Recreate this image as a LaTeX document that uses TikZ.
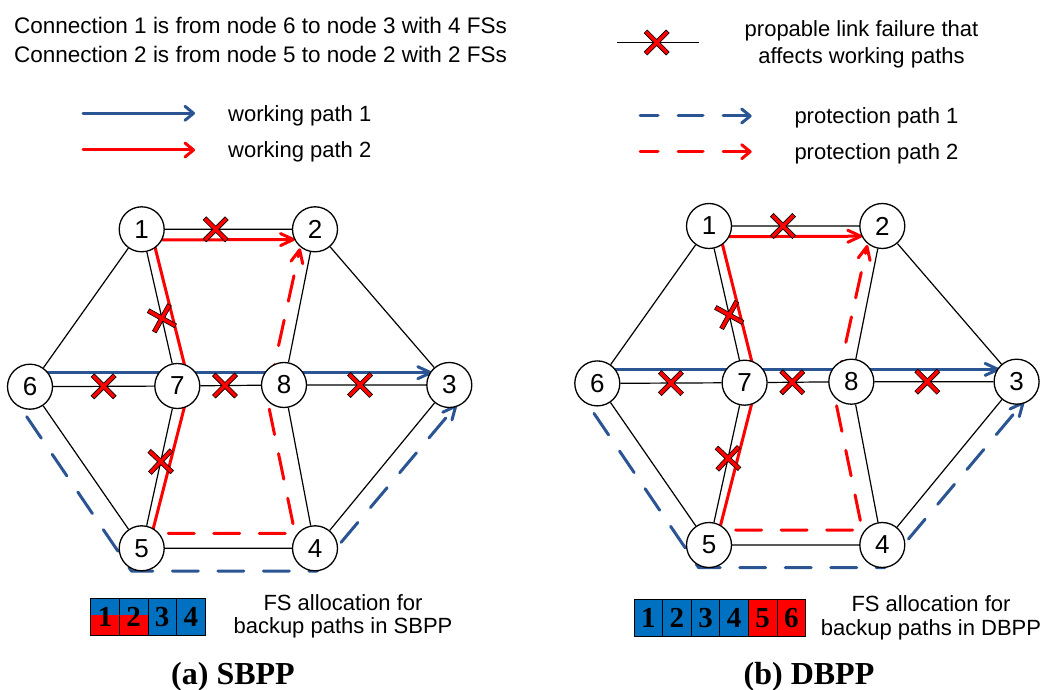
\documentclass[tikz,border=0pt]{standalone}
\usepackage{fontspec}
\setmainfont{Liberation Sans}
\newfontfamily\tnr{Liberation Serif}
\usetikzlibrary{arrows.meta,calc,backgrounds}
\definecolor{pblue}{HTML}{2B5592}
\definecolor{fsblue}{HTML}{0070C0}
\tikzset{
  netnode/.style={circle,draw,line width=1.3pt,fill=white,minimum size=45pt,inner sep=0pt,font=\fontsize{26}{26}\selectfont},
  link/.style={line width=1.2pt},
  wpath/.style={line width=3pt,line join=round,-{Straight Barb[length=13pt,width=12pt,round]}},
  ppath/.style={wpath,line cap=round,dash pattern=on 26pt off 19.5pt},
  lwpath/.style={line width=3pt,line cap=round,-{Straight Barb[length=8.5pt,width=14pt,round]}},
  lppath/.style={lwpath,dash pattern=on 25pt off 20pt,dash phase=7pt},
  txt/.style={inner sep=0pt,font=\fontsize{22}{26}\selectfont},
  captxt/.style={inner sep=0pt,font=\tnr\bfseries\fontsize{32}{32}\selectfont},
  fsbox/.style={draw,line width=0.8pt,minimum width=28.6pt,minimum height=36.7pt,inner sep=0pt,fill=fsblue,font=\tnr\bfseries\fontsize{29}{29}\selectfont},
  halfred/.style={path picture={\fill[red] (path picture bounding box.south west) rectangle ($(path picture bounding box.east)+(0,-1.7)$);}},
  xmark/.pic={\filldraw[fill=red,draw=black,line width=0.6pt,rotate=45]
    (15.5,2.2)--(2.2,2.2)--(2.2,15.5)--(-2.2,15.5)--(-2.2,2.2)--(-15.5,2.2)--(-15.5,-2.2)--(-2.2,-2.2)--(-2.2,-15.5)--(2.2,-15.5)--(2.2,-2.2)--(15.5,-2.2)--cycle;}
}
\newcommand\drawnet[1]{%
  \node[netnode] (#1n1) at (141.7,229.3) {1};
  \node[netnode] (#1n2) at (315,229.3) {2};
  \node[netnode] (#1n3) at (449.3,385) {3};
  \node[netnode] (#1n4) at (315,548.3) {4};
  \node[netnode] (#1n5) at (141.7,548.3) {5};
  \node[netnode] (#1n6) at (30,386.7) {6};
  \node[netnode] (#1n7) at (177.3,386) {7};
  \node[netnode] (#1n8) at (284,385) {8};
  \begin{scope}[on background layer]
    \draw[link] (#1n1)--(#1n2) (#1n1)--(#1n6) (#1n1)--(#1n7) (#1n2)--(#1n8) (#1n2)--(#1n3)
      (#1n6)--(#1n7) (#1n7)--(#1n8) (#1n8)--(#1n3) (#1n6)--(#1n5) (#1n7)--(#1n5)
      (#1n8)--(#1n4) (#1n3)--(#1n4) (#1n5)--(#1n4);
    \draw[wpath,red] ($(#1n5)+(6.5,0)$) -- ($(#1n7)+(12.5,0)$) -- ($(#1n1)+(11.5,10.7)$) -- ($(#1n2)+(-20,10.2)$);
    \draw[wpath,pblue] ($(#1n6)+(0,-14)$) -- ($(#1n3)+(-17,-12.3)$);
    \draw[ppath,red] ($(#1n5)+(26.6,-15)$) -- ($(#1n4)+(-20,-15)$) -- ($(#1n8)+(-17,13)$) -- ($(#1n2)+(-15,19)$);
    \draw[ppath,pblue] ($(#1n6)+(-3.3,30)$) -- ($(#1n5)+(-10.3,22.7)$) -- ($(#1n4)+(2,22.7)$) -- ($(#1n3)+(7.4,20)$);
  \end{scope}
  \pic at ($(#1n1)!0.427!(#1n2)$) {xmark};
  \pic[rotate=16] at ($(#1n1)!0.568!(#1n7)$) {xmark};
  \pic at ($(#1n6)!0.5!(#1n7)$) {xmark};
  \pic at ($(#1n7)!0.447!(#1n8)$) {xmark};
  \pic at ($(#1n8)!0.46!(#1n3)$) {xmark};
  \pic[rotate=2] at ($(#1n7)!0.466!(#1n5)$) {xmark};
}
\begin{document}
\begin{tikzpicture}[x=1pt,y=-1pt]
\useasboundingbox (0,0) rectangle (1045,690);
% top texts
\node[txt,font=\fontsize{22.5}{26}\selectfont,anchor=base west] (t1) at (14,33.3) {Connection 1 is from node 6 to node 3 with 4 FSs};
\node[txt,font=\fontsize{22.5}{26}\selectfont,anchor=base west] (t2) at (14,62.7) {Connection 2 is from node 5 to node 2 with 2 FSs};
% legend left
\coordinate (lw1s) at (83,113.3); \coordinate (lw1e) at (195,113.3);
\coordinate (lw2s) at (83,150); \coordinate (lw2e) at (195,150);
\draw[lwpath,pblue] (lw1s) -- (lw1e);
\draw[lwpath,red] (lw2s) -- (lw2e);
\node[txt,anchor=base west] (lw1) at (228,121.5) {working path 1};
\node[txt,anchor=base west] (lw2) at (228,158) {working path 2};
% legend right
\coordinate (lxs) at (617,42.3); \coordinate (lxe) at (699,42.3);
\draw[link] (lxs) -- (lxe);
\pic at (656.7,42.5) {xmark};
\node[txt,anchor=base] (lx1) at (861.5,36.7) {propable link failure that};
\node[txt,anchor=base] (lx2) at (861.5,63.3) {affects working paths};
\coordinate (lp1s) at (640,116); \coordinate (lp1e) at (751.7,116);
\coordinate (lp2s) at (640,151.7); \coordinate (lp2e) at (751.7,151.7);
\draw[lppath,pblue] (lp1s) -- (lp1e);
\draw[lppath,red] (lp2s) -- (lp2e);
\node[txt,anchor=base west] (lp1) at (794.3,124) {protection path 1};
\node[txt,anchor=base west] (lp2) at (794.3,159.7) {protection path 2};
% networks
\drawnet{a}
\begin{scope}[shift={(567.3,-3.3)}]
\drawnet{b}
\end{scope}
% FS allocation (a)
\node[fsbox,halfred] (fsa1) at (105,616.7) {1};
\node[fsbox,halfred] (fsa2) at (133.6,616.7) {2};
\node[fsbox] (fsa3) at (162.2,616.7) {3};
\node[fsbox] (fsa4) at (190.8,616.7) {4};
\node[txt,anchor=base] (fsla1) at (343,610) {FS allocation for};
\node[txt,anchor=base] (fsla2) at (343,633.3) {backup paths in SBPP};
% FS allocation (b)
\node[fsbox] (fsb1) at (648.3,617.7) {1};
\node[fsbox] (fsb2) at (676.9,617.7) {2};
\node[fsbox] (fsb3) at (705.5,617.7) {3};
\node[fsbox] (fsb4) at (734.1,617.7) {4};
\node[fsbox,fill=red] (fsb5) at (762.7,617.7) {5};
\node[fsbox,fill=red] (fsb6) at (791.3,617.7) {6};
\node[txt,anchor=base] (fslb1) at (931,611.5) {FS allocation for};
\node[txt,anchor=base] (fslb2) at (931,635) {backup paths in DBPP};
% captions
\node[captxt,anchor=base] (capa) at (233,684) {(a) SBPP};
\node[captxt,anchor=base] (capb) at (809,684.5) {(b) DBPP};
\end{tikzpicture}
\end{document}
